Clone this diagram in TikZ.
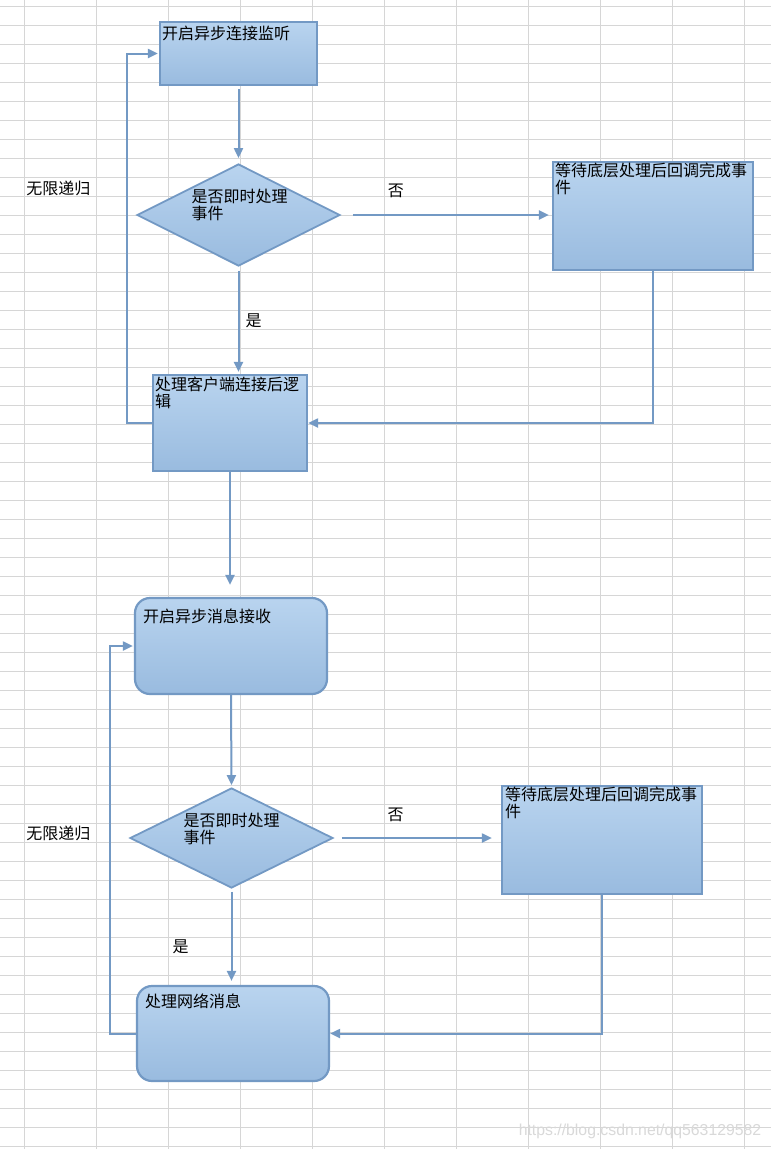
\documentclass[tikz,border=0pt]{standalone}
\usepackage{fontspec}
\setmainfont{Noto Sans CJK SC}
\newfontfamily\wmfont{Liberation Sans}
\usepackage{xcolor}
\usetikzlibrary{shapes.geometric}
\usetikzlibrary{arrows.meta}

\definecolor{gridgray}{HTML}{D6D6D6}
\definecolor{edgeblue}{HTML}{7399C4}
\definecolor{boxtop}{HTML}{B9D4EF}
\definecolor{boxbot}{HTML}{99BBDF}

\begin{document}
\begin{tikzpicture}[x=1pt, y=-1pt,
    font=\fontsize{16}{17}\selectfont,
    >={Triangle[length=10pt,width=9pt]},
    gridline/.style={gridgray, line width=1pt},
    flowbox/.style={rectangle, draw=edgeblue, line width=2.2pt, top color=boxtop, bottom color=boxbot, inner sep=0pt},
    roundbox/.style={flowbox, rounded corners=15pt},
    decision/.style={diamond, draw=edgeblue, line width=1.8pt, top color=boxtop, bottom color=boxbot, inner sep=0pt},
    txt/.style={anchor=north west, inner sep=0pt, align=left, text=black},
    flow/.style={->, edgeblue, line width=2pt},
    word/.style={inner sep=0pt, text=black}]
            % Sheet grid
            \useasboundingbox (0,0) rectangle (771,1149);
            \fill[white] (0,0) rectangle (771,1149);
            \foreach \gx in {24,96,...,744}
                \draw[gridline] (\gx,0) -- (\gx,1149);
            \foreach \gy in {6,25,...,1146}
                \draw[gridline] (0,\gy) -- (771,\gy);

            % Connection part
            \node[flowbox, minimum width=157pt, minimum height=63pt,
                label={[txt,xshift=3pt,yshift=-5pt]north west:开启异步连接监听}] (listen) at (238.5,53.5) {};
            \node[decision, minimum width=203pt, minimum height=102pt,
                label={[txt,xshift=-47pt,yshift=-26pt]north:{是否即时处理\\事件}}] (ask1) at (238.5,215) {};
            \node[flowbox, minimum width=200pt, minimum height=108pt,
                label={[txt,xshift=3pt,yshift=-2pt]north west:{等待底层处理后回调完成事\\件}}] (wait1) at (653,216) {};
            \node[flowbox, minimum width=154pt, minimum height=96pt,
                label={[txt,xshift=3pt,yshift=-3pt]north west:{处理客户端连接后逻\\辑}}] (client) at (230,423) {};

            \draw[flow, shorten <=3pt, shorten >=5pt] (listen.south) -- (ask1.north);
            \draw[flow, shorten <=12pt, shorten >=3pt] (ask1.east) -- (ask1.east -| wait1.west)
                node[word, pos=.26, above=16pt] (no1) {否};
            \draw[flow, shorten <=4pt, shorten >=2pt] (ask1.south) -- (ask1.south |- client.north)
                node[word, midway, right=6pt] (yes1) {是};
            \draw[flow] (wait1.south) |- (client.east);
            \draw[flow, shorten >=1pt] (client.west) -- ++(-25,0) |- (listen.west);
            \node[word] (loop1) at (58.5,188) {无限递归};

            % Message part
            \node[roundbox, minimum width=192pt, minimum height=96pt,
                label={[txt,xshift=9pt,yshift=-12pt]north west:开启异步消息接收}] (recv) at (231,646) {};
            \node[decision, minimum width=203pt, minimum height=100pt,
                label={[txt,xshift=-48pt,yshift=-26pt]north:{是否即时处理\\事件}}] (ask2) at (231.5,838) {};
            \node[flowbox, minimum width=200pt, minimum height=108pt,
                label={[txt,xshift=4pt,yshift=-2pt]north west:{等待底层处理后回调完成事\\件}}] (wait2) at (602,840) {};
            \node[roundbox, minimum width=192pt, minimum height=95pt,
                label={[txt,xshift=9pt,yshift=-9pt]north west:处理网络消息}] (netmsg) at (233,1033.5) {};

            \draw[flow, shorten >=12pt] (client.south) -- (client.south |- recv.north);
            \draw[flow, shorten >=2pt] (recv.south) -- (ask2.north);
            \draw[flow, shorten <=8pt, shorten >=9pt] (ask2.east) -- (ask2.east -| wait2.west)
                node[word, pos=.37, above=15pt] (no2) {否};
            \draw[flow, shorten <=3pt, shorten >=4pt] (ask2.south) -- (ask2.south |- netmsg.north)
                node[word, pos=.6, left=42pt] (yes2) {是};
            \draw[flow] (wait2.south) |- (netmsg.east);
            \draw[flow, shorten >=1pt] (netmsg.west) -- ++(-26,0) |- (recv.west);
            \node[word] (loop2) at (58.5,833) {无限递归};

            % Watermark
            \node[inner sep=0pt, text=gray!30, font=\wmfont\fontsize{15.8}{17}\selectfont] (mark) at (640,1131) {https://blog.csdn.net/qq563129582};
        \end{tikzpicture}
\end{document}
